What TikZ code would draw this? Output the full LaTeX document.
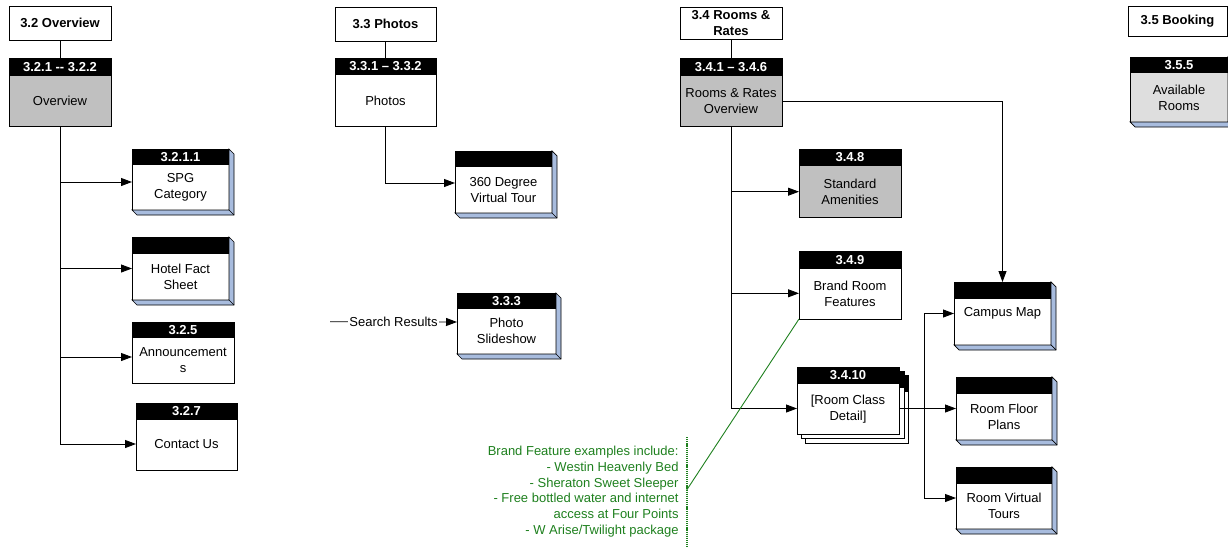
\documentclass[tikz,border=0pt]{standalone}
\usepackage{fontspec}
\setmainfont{Liberation Sans}
\usetikzlibrary{arrows.meta,calc}
\definecolor{boxgray}{RGB}{192,192,192}
\definecolor{lightgray2}{RGB}{222,222,222}
\definecolor{shadowblue}{RGB}{168,188,222}
\definecolor{notegreen}{RGB}{30,128,30}
\tikzset{
  bodytxt/.style={font=\fontsize{13}{16}\selectfont, align=center, inner sep=0pt},
  numtxt/.style={text=white, font=\bfseries\fontsize{13}{15}\selectfont, inner sep=0pt},
  hdr/.style={draw, fill=white, font=\bfseries\fontsize{13}{15.5}\selectfont, align=center, inner sep=0pt, outer sep=0pt},
  arr/.style={-{Triangle[length=11pt,width=8pt]}},
  notetxt/.style={text=notegreen, font=\fontsize{13}{15.7}\selectfont, align=right, inner sep=0pt},
}
% #1 name #2 x1 #3 y1 #4 x2 #5 y2 #6 bar height #7 fill #8 number
\newcommand\pgbox[8]{%
  \node[draw, fill=#7, inner sep=0pt, outer sep=0pt, minimum width={#4-#2}, minimum height={#5-#3}, anchor=north west] (#1) at (#2,#3) {};
  \fill[black] (#1.north west) rectangle ([yshift=-#6pt]#1.north east);
  \draw (#1.north west) rectangle (#1.south east);
  \node[numtxt] at ($(#1.north)!0.5!([yshift=-#6pt]#1.north)$) {#8};
  \coordinate (#1-body) at ($([yshift=-#6pt]#1.north)!0.5!(#1.south)$);
}
\newcommand\bevel[1]{%
  \filldraw[fill=shadowblue, line width=0.7pt] (#1.north east) -- ++(5,5) -- ([shift={(5,5)}]#1.south east) -- ([shift={(5,5)}]#1.south west) -- (#1.south west) -- (#1.south east) -- cycle;
  \draw[line width=0.7pt] (#1.south east) -- ([shift={(5,5)}]#1.south east);
}
\begin{document}
\begin{tikzpicture}[x=1pt,y=-1pt,line width=0.9pt]
\useasboundingbox (0,0) rectangle (1228,546);

% ---------- 3.2 Overview ----------
\node[hdr, minimum width=102, minimum height=34] (h32) at (60,23) {3.2 Overview};
\pgbox{ov}{9}{58}{111}{126}{18}{boxgray}{3.2.1 -{}- 3.2.2}
\node[bodytxt] at (ov-body) {Overview};
\pgbox{spg}{132}{149}{229}{210}{15.5}{white}{3.2.1.1}
\bevel{spg}
\node[bodytxt] at (spg-body) {SPG\\Category};
\pgbox{hfs}{132}{237}{229}{300}{17}{white}{}
\bevel{hfs}
\node[bodytxt] at (hfs-body) {Hotel Fact\\Sheet};
\pgbox{ann}{132}{322}{234}{383}{16}{white}{3.2.5}
\node[bodytxt] at (ann-body) {Announcement\\s};
\pgbox{cu}{136}{403}{237}{470}{17}{white}{3.2.7}
\node[bodytxt] at ([yshift=1pt]cu-body) {Contact Us};

\draw (h32) -- (ov);
\draw[arr] (ov.south) |- ([yshift=-2.5pt]spg.west);
\draw[arr] (ov.south) |- (hfs.west);
\draw[arr] (ov.south) |- ([yshift=-4.5pt]ann.west);
\draw[arr] (ov.south) |- ([yshift=-7.5pt]cu.west);

% ---------- 3.3 Photos ----------
\node[hdr, minimum width=101, minimum height=34] (h33) at (385.5,24) {3.3 Photos};
\pgbox{ph}{335}{58}{436}{126}{17}{white}{3.3.1 -- 3.3.2}
\node[bodytxt] at (ph-body) {Photos};
\pgbox{vt}{455}{151}{552}{213}{16}{white}{}
\bevel{vt}
\node[bodytxt] at (vt-body) {360 Degree\\Virtual Tour};
\pgbox{ps}{457}{293}{556}{354}{15.5}{white}{3.3.3}
\bevel{ps}
\node[bodytxt] at (ps-body) {Photo\\Slideshow};

\draw (h33) -- (ph);
\draw[arr] (ph.south) |- ([yshift=-1pt]vt.west);
\coordinate (sr) at (330,321.7);
\draw[arr] (sr) -- node[bodytxt, fill=white, inner xsep=1pt, inner ysep=1pt] (srl) {Search Results} ([yshift=1.5pt]ps.west);

% ---------- 3.4 Rooms & Rates ----------
\node[hdr, minimum width=102, minimum height=32] (h34) at (731,23) {3.4 Rooms \&\\Rates};
\pgbox{rro}{680}{58}{782}{126}{18}{boxgray}{3.4.1 -- 3.4.6}
\node[bodytxt] at (rro-body) {Rooms \& Rates\\Overview};
\pgbox{sa}{799}{149}{901}{217}{17}{boxgray}{3.4.8}
\node[bodytxt] at (sa-body) {Standard\\Amenities};
\pgbox{brf}{799}{251}{901}{319}{17.5}{white}{3.4.9}
\node[bodytxt] at (brf-body) {Brand Room\\Features};
\pgbox{rcdb}{805}{375}{908}{443}{17}{white}{}
\pgbox{rcdm}{801}{371}{904}{438.5}{17}{white}{}
\pgbox{rcd}{797}{367}{899}{434}{17}{white}{3.4.10}
\node[bodytxt] at (rcd-body) {[Room Class\\Detail]};
\pgbox{cm}{954}{282}{1051}{345}{16.5}{white}{}
\bevel{cm}
\node[bodytxt, yshift=8.5pt] at (cm-body) {Campus Map};
\pgbox{rfp}{956}{377}{1052}{440}{17}{white}{}
\bevel{rfp}
\node[bodytxt] at (rfp-body) {Room Floor\\Plans};
\pgbox{rvt}{956}{467}{1052}{529}{16.5}{white}{}
\bevel{rvt}
\node[bodytxt] at (rvt-body) {Room Virtual\\Tours};

\draw (h34) -- (rro);
\draw[arr] ([yshift=-9pt]rro.east) -| (cm.north);
\draw[arr] (rro.south) |- ([yshift=-8.7pt]sa.west);
\draw[arr] (rro.south) |- ([yshift=-8.3pt]brf.west);
\draw[arr] (rro.south) |- ([yshift=-8pt]rcd.west);
\coordinate (j) at (924,408.5);
\draw[line width=1.4pt] ([yshift=-8pt]rcd.east) -- (j);
\draw[arr] (j) -- (rfp.west);
\draw[arr] (j) |- (cm.west);
\draw[arr] (j) |- (rvt.west);

% note
\coordinate (nj) at (686.7,490);
\coordinate (nt) at (686.7,437);
\coordinate (nb) at (686.7,548);
\draw[notegreen, line width=0.9pt] (brf.south west) -- (nj);
\draw[notegreen, line width=1.6pt, dash pattern=on 1.2pt off 0.9pt] (nt) -- (nb);
\node[notetxt, anchor=east] (note) at (679,491.5) {Brand Feature examples include:\\- Westin Heavenly Bed\\- Sheraton Sweet Sleeper\\- Free bottled water and internet\\access at Four Points\\- W Arise/Twilight package};

% ---------- 3.5 Booking ----------
\node[hdr, minimum width=99, minimum height=30] (h35) at (1177.5,21) {3.5 Booking};
\pgbox{ar}{1130}{57}{1228}{122}{15.5}{lightgray2}{3.5.5}
\bevel{ar}
\node[bodytxt] at ([yshift=-1pt]ar-body) {Available\\Rooms};
\end{tikzpicture}
\end{document}
